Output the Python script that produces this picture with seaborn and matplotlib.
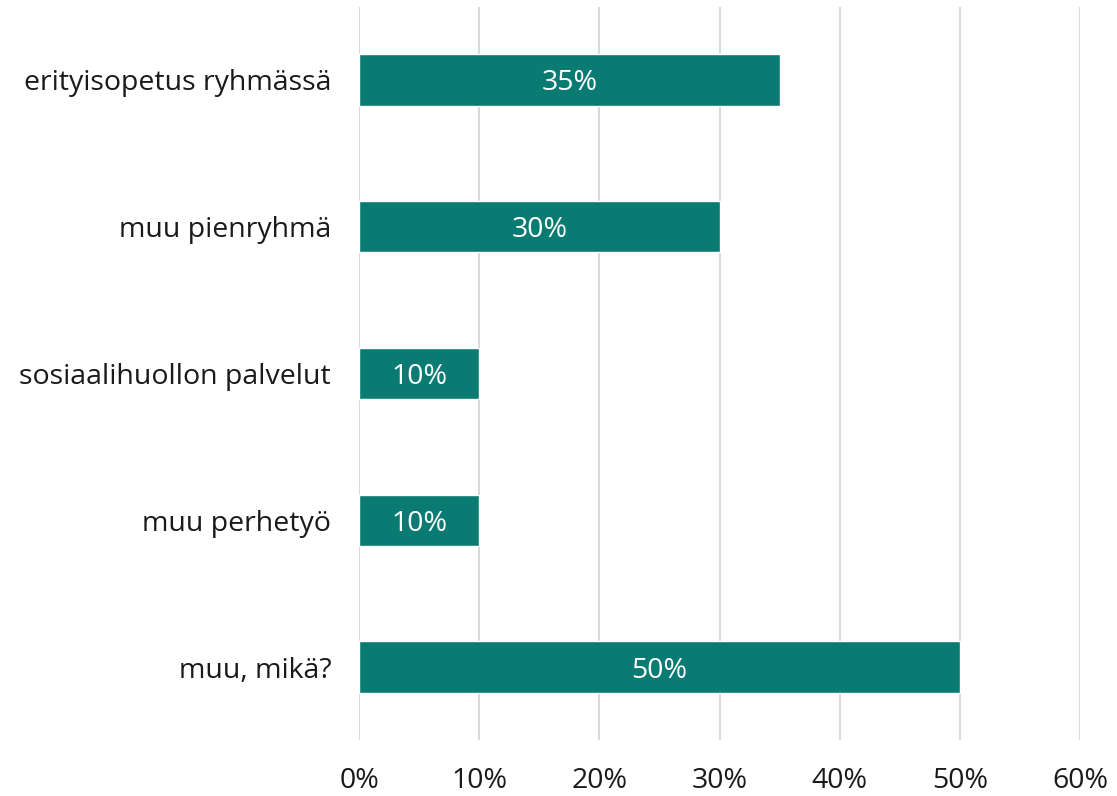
import matplotlib
matplotlib.use("Agg")
import matplotlib.pyplot as plt
import seaborn as sns
import pandas as pd

categories = [
    "erityisopetus ryhmässä",
    "muu pienryhmä",
    "sosiaalihuollon palvelut",
    "muu perhetyö",
    "muu, mikä?",
]
values = [35, 30, 10, 10, 50]
xticks = [0, 10, 20, 30, 40, 50, 60]

bar_color = "#0a7b73"

sns.set_theme(style="white")
plt.rcParams["font.family"] = ["Open Sans", "DejaVu Sans"]

df = pd.DataFrame({"category": categories, "value": values})

fig = plt.figure(figsize=(11.17, 7.96), dpi=100)
ax = fig.add_axes([0.3214, 0.0698, 0.6455, 0.9219])

sns.barplot(data=df, x="value", y="category", orient="h",
            color=bar_color, saturation=1, width=0.35, ax=ax, zorder=3)

ax.set_xlim(0, 60)
ax.set_xticks(xticks)
ax.set_xticklabels([f"{t}%" for t in xticks], fontsize=20.5, color="#1a1a1a")
ax.tick_params(axis="x", length=0, pad=19)
ax.tick_params(axis="y", length=0, pad=20, labelsize=20.5, labelcolor="#1a1a1a")
ax.set_xlabel("")
ax.set_ylabel("")
ax.grid(axis="x", color="#d9d9d9", linewidth=1.5, zorder=0)
ax.grid(axis="y", visible=False)
for side in ax.spines.values():
    side.set_visible(False)

# value labels in the middle of each bar
for container in ax.containers:
    labels = ax.bar_label(container, labels=[f"{v}%" for v in values],
                          label_type="center", color="white", fontsize=20.5)
    for t in labels:
        t.set_va("center_baseline")

fig.savefig("out.png", dpi=100)
